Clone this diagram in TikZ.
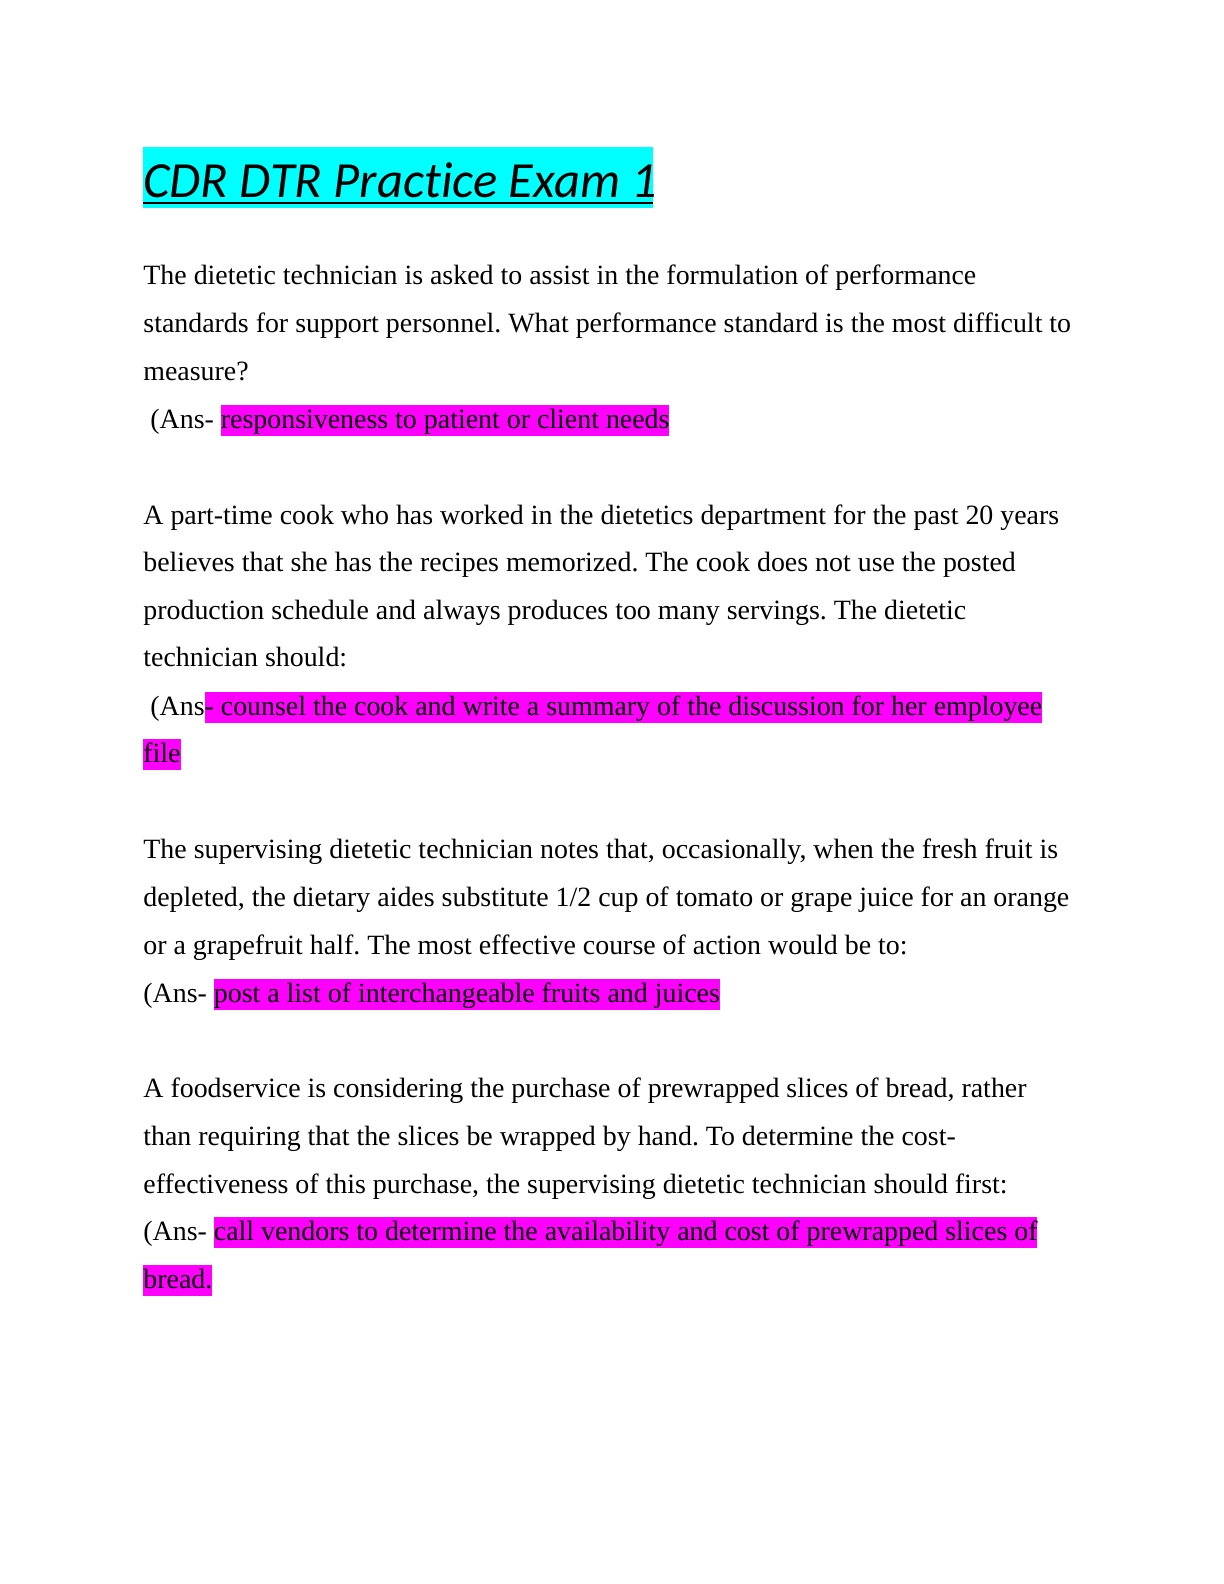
\documentclass[tikz,border=0pt]{standalone}
\usepackage{fontspec}
\setmainfont{Liberation Serif}
\newfontfamily\titlef[RawFeature=-liga]{Carlito}
\definecolor{hlmag}{RGB}{255,0,255}
\definecolor{hlcyan}{RGB}{0,255,255}
\newcommand{\hlm}[1]{{\setlength{\fboxsep}{0pt}\colorbox{hlmag}{\rule[-3.8pt]{0pt}{15.5pt}#1}}}
\begin{document}
\frenchspacing
\begin{tikzpicture}[x=0.5pt,y=-0.5pt,
  ln/.style={anchor=base west,inner sep=0pt,font=\fontsize{13.95}{16}\selectfont}]
\useasboundingbox (0,0) rectangle (1224,1584);
\fill[hlcyan] (143,147) rectangle (653,208);
\node[anchor=base west,inner sep=0pt,font=\titlef\itshape\fontsize{25.3}{30}\selectfont] (title) at (143,197) {CDR DTR Practice Exam 1};
\draw[line width=1.2pt] (143,203) -- (653,203);
\node[ln] (a1) at (143,284) {The dietetic technician is asked to assist in the formulation of performance};
\node[ln] (a2) at (143,332) {standards for support personnel. What performance standard is the most difficult to};
\node[ln] (a3) at (143,380) {measure?};
\node[ln] (a4) at (143,428) {\ (Ans- \hlm{responsiveness to patient or client needs}};
\node[ln] (b1) at (143,524) {A part-time cook who has worked in the dietetics department for the past 20 years};
\node[ln] (b2) at (143,571) {believes that she has the recipes memorized. The cook does not use the posted};
\node[ln] (b3) at (143,619) {production schedule and always produces too many servings. The dietetic};
\node[ln] (b4) at (143,666) {technician should:};
\node[ln] (b5) at (143,715) {\ (Ans\hlm{- counsel the cook and write a summary of the discussion for her employee}};
\node[ln] (b6) at (143,762) {\hlm{file}};
\node[ln] (c1) at (143,858) {The supervising dietetic technician notes that, occasionally, when the fresh fruit is};
\node[ln] (c2) at (143,906) {depleted, the dietary aides substitute 1/2 cup of tomato or grape juice for an orange};
\node[ln] (c3) at (143,954) {or a grapefruit half. The most effective course of action would be to:};
\node[ln] (c4) at (143,1002) {(Ans- \hlm{post a list of interchangeable fruits and juices}};
\node[ln] (d1) at (143,1097) {A foodservice is considering the purchase of prewrapped slices of bread, rather};
\node[ln] (d2) at (143,1145) {than requiring that the slices be wrapped by hand. To determine the cost-};
\node[ln] (d3) at (143,1193) {effectiveness of this purchase, the supervising dietetic technician should first:};
\node[ln] (d4) at (143,1240) {(Ans- \hlm{call vendors to determine the availability and cost of prewrapped slices of}};
\node[ln] (d5) at (143,1288) {\hlm{bread.}};
\end{tikzpicture}
\end{document}
